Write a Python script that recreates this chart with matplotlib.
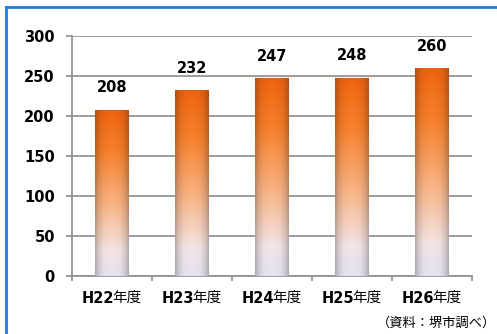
import numpy as np
import matplotlib.pyplot as plt
from matplotlib.lines import Line2D
from matplotlib.colors import LinearSegmentedColormap

# data
years = ['H22', 'H23', 'H24', 'H25', 'H26']
values = [208, 232, 247, 248, 260]
unit = '年度'
source = '（資料：堺市調べ）'
yticks = [0, 50, 100, 150, 200, 250, 300]

plt.rcParams['font.family'] = ['DejaVu Sans', 'Noto Sans CJK JP']
cjk = ['Noto Sans CJK JP', 'DejaVu Sans']

fig = plt.figure(figsize=(4.97, 3.34), dpi=100)
ax = fig.add_axes([72 / 497, 58 / 334, 400 / 497, 240 / 334])

x = np.arange(len(years))
bars = ax.bar(x, values, width=0.42, color='none', edgecolor='none', zorder=3)

# vertical gradient: orange on top fading to pale lavender at the bottom
cmap = LinearSegmentedColormap.from_list('bar', [
    (0.0, '#e4e4f0'), (0.15, '#f3e4e4'), (0.45, '#f8b07e'),
    (0.75, '#f7802a'), (1.0, '#ee6410')])
vert = np.linspace(0, 1, 200)[:, None]
col = cmap(vert)[:, :, :3] * np.ones((1, 60, 1))
h = np.linspace(-1, 1, 60)[None, :]
shade = 1 - 0.25 * np.abs(h) ** 3
img = np.clip(col * shade[:, :, None], 0, 1)
for b in bars:
    x0, w, hgt = b.get_x(), b.get_width(), b.get_height()
    im = ax.imshow(img, extent=[x0, x0 + w, 0, hgt], origin='lower',
                   aspect='auto', zorder=3, interpolation='bilinear')
    im.set_clip_path(b)
    ax.text(x0 + w / 2, hgt + 27, str(int(hgt)), ha='center', va='center',
            fontsize=10.5, fontweight='bold', zorder=4)

ax.set_xlim(-0.5, len(years) - 0.5)
ax.set_ylim(0, 300)
ax.set_yticks(yticks)
ax.set_yticklabels([str(t) for t in yticks], fontsize=10.5, fontweight='bold')
ax.yaxis.grid(True, color='#8c8c8c', linewidth=1.2)
ax.set_axisbelow(True)
ax.tick_params(axis='y', length=4.3, color='#8c8c8c', width=1.2, pad=8)
ax.set_xticks(np.arange(len(years) + 1) - 0.5)
ax.set_xticklabels([])
ax.tick_params(axis='x', length=3.6, color='#8c8c8c', width=1.2, direction='out')
for s in ['top', 'right']:
    ax.spines[s].set_visible(False)
for s in ['left', 'bottom']:
    ax.spines[s].set_color('#8c8c8c')
    ax.spines[s].set_linewidth(1.2)

# category labels: bold year + regular unit
for i, y in enumerate(years):
    ax.annotate(y, (i, 0), xytext=(1.5, -16), textcoords='offset points',
                ha='right', va='center', fontsize=10.5, fontweight='bold')
    ax.annotate(unit, (i, 0), xytext=(0.5, -16), textcoords='offset points',
                ha='left', va='center', fontsize=10.5, family=cjk)

fig.text(496 / 497, 1 - 323 / 334, source, ha='right', va='center',
         fontsize=9.5, family=cjk)

# blue frame edges
fig.add_artist(Line2D([6 / 497, 6 / 497], [0, 1 - 7 / 334], color='#1a7fd4', lw=2))
fig.add_artist(Line2D([6 / 497, 1], [1 - 7 / 334, 1 - 7 / 334], color='#1a7fd4', lw=2))

fig.savefig('out.png', dpi=100)
